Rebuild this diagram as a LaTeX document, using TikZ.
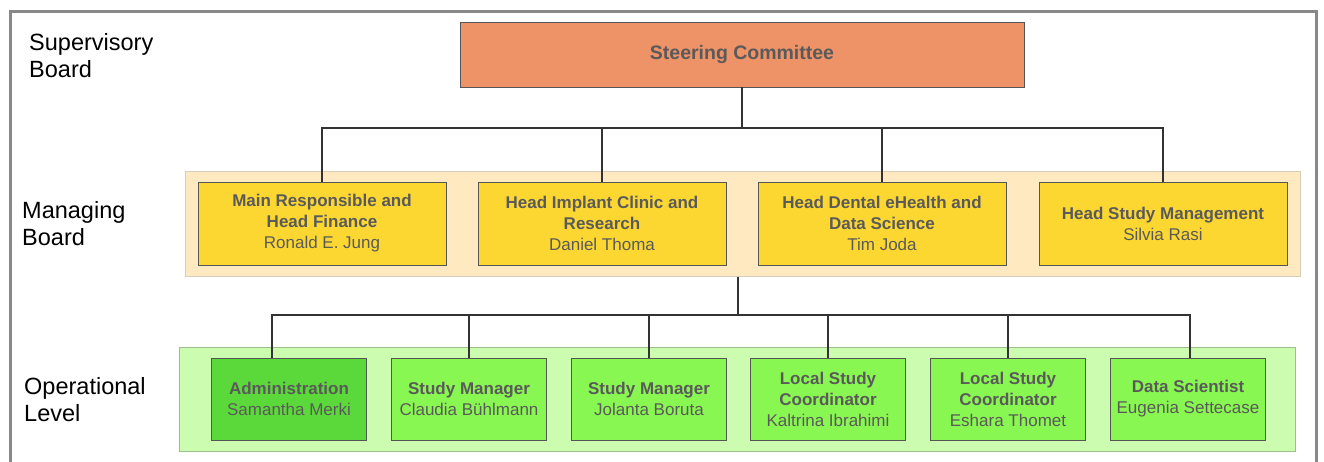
\documentclass[tikz,border=0pt]{standalone}
\usepackage{fontspec}
\setmainfont{Liberation Sans}

\definecolor{steerfill}{HTML}{EE9268}
\definecolor{mbandfill}{HTML}{FFE9C0}
\definecolor{mbandline}{HTML}{D6CDBB}
\definecolor{mgrfill}{HTML}{FCD732}
\definecolor{obandfill}{HTML}{CCFCB0}
\definecolor{obandline}{HTML}{9CC08C}
\definecolor{opfill}{HTML}{89F751}
\definecolor{adminfill}{HTML}{5CD93A}
\definecolor{boxtext}{HTML}{5A5A5A}
\definecolor{boxline}{HTML}{555555}
\definecolor{framegray}{HTML}{888888}

\tikzset{
  levellabel/.style={anchor=north west, align=left, inner sep=0pt, font=\fontsize{23.5}{27}\selectfont},
  band/.style={inner sep=0pt, line width=1pt},
  steerbox/.style={draw=boxline, fill=steerfill, minimum width=564pt, minimum height=65pt, inner sep=0pt, text=boxtext, font=\fontsize{19.5}{23}\selectfont\bfseries},
  mgrbox/.style={draw=boxline, fill=mgrfill, minimum width=248pt, minimum height=83pt, inner sep=0pt, align=center, text=boxtext, font=\fontsize{17}{21}\selectfont},
  opbox/.style={draw=boxline, fill=opfill, minimum width=155pt, minimum height=82pt, inner sep=0pt, align=center, text=boxtext, font=\fontsize{17}{21}\selectfont},
  conn/.style={draw=black!80, line width=1.3pt}
}

\begin{document}
\begin{tikzpicture}[x=1pt,y=-1pt]
\useasboundingbox (0,0) rectangle (1324,461);

% frame
\draw[framegray, line width=3pt] (10.5,470) -- (10.5,11) -- (1316,11) -- (1316,470);

% levels
\node[levellabel] (supervisory) at (29,33) {Supervisory\\Board};
\node[levellabel] (managing) at (22,201) {Managing\\Board};
\node[levellabel] (operational) at (24,377) {Operational\\Level};

% bands
\node[band, draw=mbandline, fill=mbandfill, minimum width=1115pt, minimum height=105pt] (mband) at (742.5,223.5) {};
\node[band, draw=obandline, fill=obandfill, minimum width=1116pt, minimum height=104pt] (oband) at (737,399) {};

\node[steerbox] (steer) at (742,54.5) {\raisebox{-1.5pt}{Steering Committee}};

% managing board
\node[mgrbox] (m1) at (322,223.5) {\textbf{Main Responsible and}\\\textbf{Head Finance}\\Ronald E. Jung};
\node[mgrbox] (m2) at (602,223.5) {\textbf{Head Implant Clinic and}\\\textbf{Research}\\Daniel Thoma};
\node[mgrbox] (m3) at (882,223.5) {\textbf{Head Dental eHealth and}\\\textbf{Data Science}\\Tim Joda};
\node[mgrbox] (m4) at (1163,223.5) {\textbf{Head Study Management}\\Silvia Rasi};

\coordinate (mjoin) at (742,128);
\draw[conn] (steer.south) -- (mjoin);
\draw[conn] (m1.north) |- (mjoin) -| (m4.north);
\draw[conn] (m2.north) -- (m2.north |- mjoin);
\draw[conn] (m3.north) -- (m3.north |- mjoin);

% operational level
\node[opbox, fill=adminfill] (o1) at (289,399) {\textbf{Administration}\\Samantha Merki};
\node[opbox] (o2) at (469,399) {\textbf{Study Manager}\\Claudia Bühlmann};
\node[opbox] (o3) at (649,399) {\textbf{Study Manager}\\Jolanta Boruta};
\node[opbox] (o4) at (828,399) {\textbf{Local Study}\\\textbf{Coordinator}\\Kaltrina Ibrahimi};
\node[opbox] (o5) at (1008,399) {\textbf{Local Study}\\\textbf{Coordinator}\\Eshara Thomet};
\node[opbox] (o6) at (1188,399) {\textbf{Data Scientist}\\Eugenia Settecase};

\coordinate (ojoin) at (738,315);
\draw[conn] (mband.south -| ojoin) -- (ojoin);
\draw[conn] ([xshift=-17pt]o1.north) |- (ojoin) -| ([xshift=2pt]o6.north);
\foreach \i in {2,...,5}
  \draw[conn] (o\i.north) -- (o\i.north |- ojoin);

\end{tikzpicture}
\end{document}
